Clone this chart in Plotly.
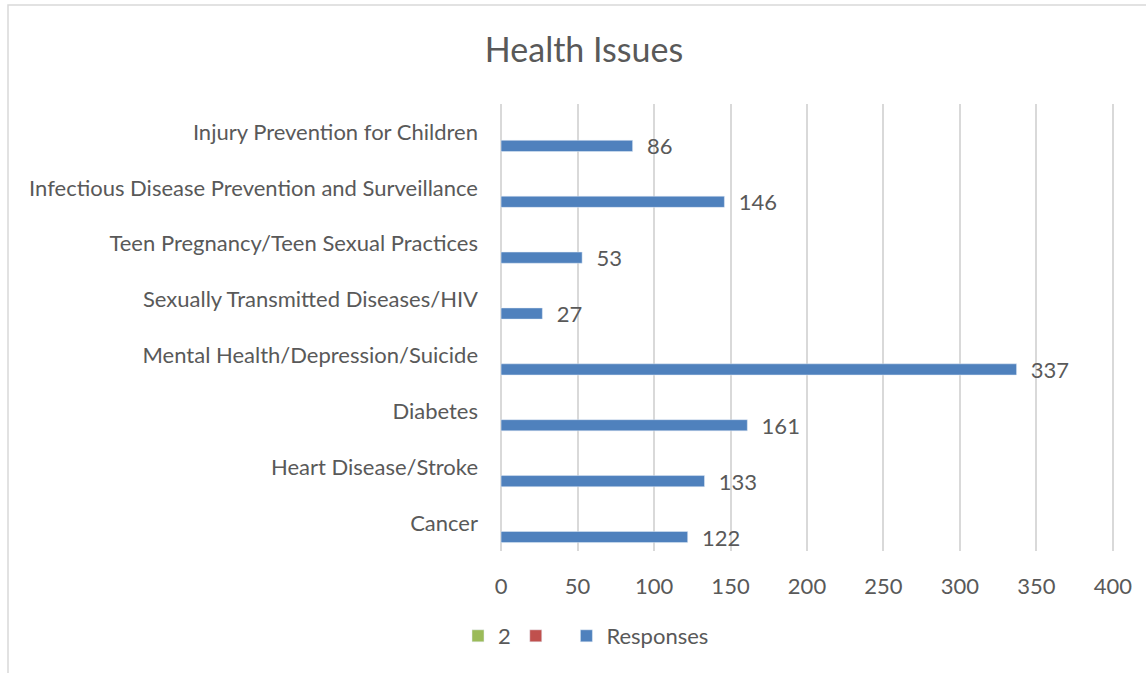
import plotly.graph_objects as go

categories = [
    "Cancer",
    "Heart Disease/Stroke",
    "Diabetes",
    "Mental Health/Depression/Suicide",
    "Sexually Transmitted Diseases/HIV",
    "Teen Pregnancy/Teen Sexual Practices",
    "Infectious Disease Prevention and Surveillance",
    "Injury Prevention for Children",
]
responses = [122, 133, 161, 337, 27, 53, 146, 86]
series_2 = [None] * len(categories)
series_3 = [None] * len(categories)
x_ticks = [0, 50, 100, 150, 200, 250, 300, 350, 400]

FONT = "Lato"
TXT = "#595959"

L, R, T, B = 498, 30, 104, 122
W, H = 1146, 673
pw = W - L - R
ph = H - T - B

fig = go.Figure()
fig.add_trace(go.Bar(
    y=categories, x=responses, orientation="h", name="Responses",
    marker=dict(color="#4F81BD"), legendrank=3,
    text=["\u00a0\u00a0" + str(v) for v in responses], textposition="outside",
    constraintext="none",
    textfont=dict(family=FONT, size=22, color=TXT), cliponaxis=False,
))
fig.add_trace(go.Bar(
    y=categories, x=series_2, orientation="h", name="2",
    marker=dict(color="#9BBB59"), legendrank=1,
))
fig.add_trace(go.Bar(
    y=categories, x=series_3, orientation="h", name=" ",
    marker=dict(color="#C0504D"), legendrank=2,
))

def px_x(p):
    return (p - L) / pw

def px_y(p):
    return (H - B - p) / ph

fig.update_layout(
    width=W, height=H,
    margin=dict(l=L, r=R, t=T, b=B),
    paper_bgcolor="white", plot_bgcolor="white",
    barmode="group", bargap=0.25, bargroupgap=0.2,
    font=dict(family=FONT, size=22, color=TXT),
    title=dict(text="Health Issues", x=px_x(584), xref="paper", xanchor="center",
               y=1 - 50 / H, yanchor="middle", font=dict(family=FONT, size=34, color=TXT)),
    xaxis=dict(range=[-2, 402], tickvals=x_ticks, showgrid=True, gridcolor="#D9D9D9",
               gridwidth=1.5, zeroline=False, showline=False, ticks="",
               ticklabelstandoff=20, tickfont=dict(family=FONT, size=22, color=TXT)),
    yaxis=dict(type="category", categoryorder="array", categoryarray=categories,
               showgrid=False, showline=False, ticks="", ticklabelstandoff=19,
               tickfont=dict(family=FONT, size=22, color=TXT)),
    legend=dict(orientation="h", x=px_x(458), xanchor="left", y=px_y(636), yanchor="middle",
                font=dict(family=FONT, size=22, color=TXT), bgcolor="rgba(0,0,0,0)"),
    showlegend=True,
    shapes=[dict(type="rect", xref="paper", yref="paper",
                 x0=px_x(8), x1=px_x(1160), y0=px_y(690), y1=px_y(5),
                 line=dict(color="#D9D9D9", width=1.5), fillcolor="rgba(0,0,0,0)",
                 layer="below")],
)

fig.write_html("out.html", config={"displayModeBar": False},
               post_script="document.body.style.margin='0';")
